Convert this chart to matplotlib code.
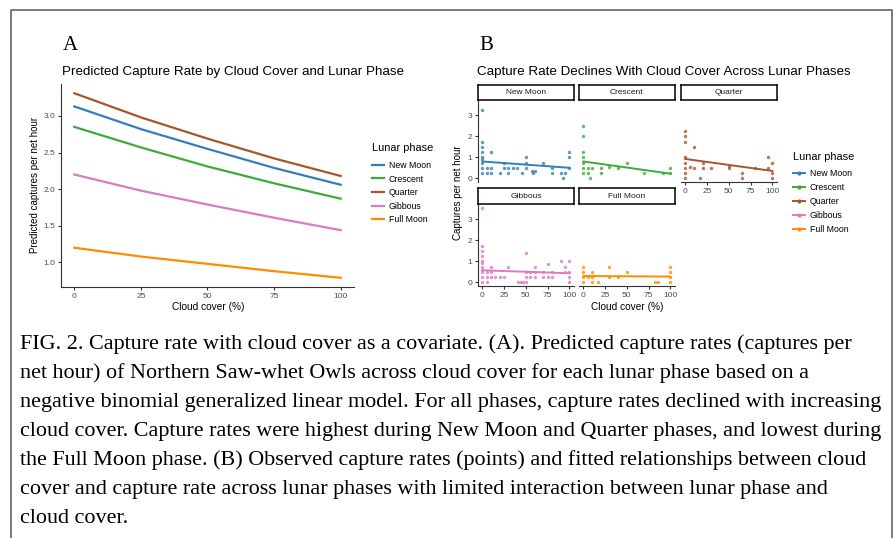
import matplotlib
matplotlib.use("Agg")
import matplotlib.pyplot as plt
from matplotlib.lines import Line2D

plt.rcParams['font.family'] = ['Liberation Sans', 'DejaVu Sans']

# lunar phases and their colours
phases = ["New Moon", "Crescent", "Quarter", "Gibbous", "Full Moon"]
colors = ["#377EB8", "#3DAA3A", "#A65628", "#DC7BBE", "#FF8C00"]

# panel A: predicted capture rate
cloud_pred = [0, 25, 50, 75, 100]
pred_new_moon = [3.13, 2.82, 2.55, 2.29, 2.06]
pred_crescent = [2.85, 2.57, 2.31, 2.08, 1.87]
pred_quarter = [3.31, 2.98, 2.69, 2.42, 2.18]
pred_gibbous = [2.20, 1.98, 1.79, 1.61, 1.44]
pred_full_moon = [1.20, 1.08, 0.98, 0.88, 0.79]
predicted = [pred_new_moon, pred_crescent, pred_quarter, pred_gibbous, pred_full_moon]

# panel B: observed capture rates (cloud cover %, captures per net hour)
new_moon_cloud = [0, 0, 0, 0, 0, 0, 0, 0, 0, 5, 5, 10, 10, 10, 20, 25, 25, 30, 30,
                  35, 40, 45, 50, 50, 50, 57, 58, 61, 70, 80, 80, 90, 93, 95, 100, 100, 100]
new_moon_rate = [3.25, 1.75, 1.5, 1.25, 1.0, 0.9, 0.75, 0.5, 0.25, 0.5, 0.25, 1.25, 0.5, 0.25,
                 0.25, 0.75, 0.5, 0.5, 0.25, 0.5, 0.5, 0.25, 1.0, 0.75, 0.5, 0.33, 0.25, 0.33,
                 0.75, 0.5, 0.25, 0.25, 0.0, 0.25, 1.25, 1.0, 0.5]
crescent_cloud = [0, 0, 0, 0, 0, 0, 0, 5, 5, 8, 10, 20, 20, 30, 40, 50, 70, 92, 100, 100]
crescent_rate = [2.5, 2.0, 1.25, 1.0, 0.75, 0.5, 0.25, 0.5, 0.25, 0.0, 0.5, 0.5, 0.25,
                 0.55, 0.5, 0.75, 0.25, 0.25, 0.5, 0.25]
quarter_cloud = [0, 0, 0, 0, 0, 0, 0, 0, 5, 10, 10, 17, 20, 20, 30, 50, 50, 65, 65,
                 80, 95, 95, 100, 100, 100]
quarter_rate = [2.25, 2.0, 1.75, 1.0, 0.75, 0.5, 0.25, 0.0, 0.55, 1.5, 0.5, 0.0, 0.75, 0.5,
                0.5, 0.5, 0.6, 0.25, 0.0, 0.5, 1.0, 0.5, 0.75, 0.25, 0.0]
gibbous_cloud = [0, 0, 0, 0, 0, 0, 0, 0, 0, 0, 0, 5, 5, 5, 10, 10, 10, 15, 20, 25, 30,
                 41, 44, 47, 50, 50, 50, 50, 55, 55, 60, 60, 60, 70, 70, 75, 75, 80, 80,
                 90, 95, 95, 100, 100, 100, 100]
gibbous_rate = [3.55, 1.75, 1.5, 1.25, 1.0, 0.9, 0.75, 0.6, 0.5, 0.25, 0.0, 0.5, 0.25, 0.0,
                0.75, 0.5, 0.25, 0.25, 0.25, 0.25, 0.75, 0.0, 0.0, 0.0, 1.4, 0.5, 0.25, 0.0,
                0.5, 0.25, 0.5, 0.25, 0.75, 0.5, 0.25, 0.85, 0.25, 0.5, 0.25, 1.0, 0.75, 0.5,
                1.0, 0.5, 0.25, 0.0]
full_moon_cloud = [0, 0, 0, 0, 5, 10, 10, 10, 17, 30, 30, 40, 50, 82, 86, 100, 100, 100, 100]
full_moon_rate = [0.75, 0.5, 0.25, 0.0, 0.25, 0.5, 0.25, 0.0, 0.0, 0.75, 0.25, 0.25, 0.5,
                  0.0, 0.0, 0.75, 0.5, 0.25, 0.0]
observed_cloud = [new_moon_cloud, crescent_cloud, quarter_cloud, gibbous_cloud, full_moon_cloud]
observed_rate = [new_moon_rate, crescent_rate, quarter_rate, gibbous_rate, full_moon_rate]

# fitted lines in panel B (value at 0% and 100% cloud cover)
fit_cloud = [0, 100]
fit_start = [0.80, 0.80, 0.92, 0.57, 0.30]
fit_end = [0.50, 0.22, 0.35, 0.43, 0.27]

caption_lines = [
    "FIG. 2. Capture rate with cloud cover as a covariate. (A). Predicted capture rates (captures per",
    "net hour) of Northern Saw-whet Owls across cloud cover for each lunar phase based on a",
    "negative binomial generalized linear model. For all phases, capture rates declined with increasing",
    "cloud cover. Capture rates were highest during New Moon and Quarter phases, and lowest during",
    "the Full Moon phase. (B) Observed capture rates (points) and fitted relationships between cloud",
    "cover and capture rate across lunar phases with limited interaction between lunar phase and",
    "cloud cover.",
]

W, H = 895, 538
fig = plt.figure(figsize=(W / 100, H / 100), dpi=100)
fig.patch.set_facecolor("white")


def px_axes(left, top, right, bottom):
    # place an axes by pixel edges
    return fig.add_axes([left / W, 1 - bottom / H, (right - left) / W, (bottom - top) / H])


def classic(ax):
    for s in ["top", "right"]:
        ax.spines[s].set_visible(False)
    for s in ["left", "bottom"]:
        ax.spines[s].set_color("#333333")
        ax.spines[s].set_linewidth(0.8)
    ax.tick_params(length=2.5, width=0.8, color="#333333", labelsize=6,
                   labelcolor="#4D4D4D", pad=1.5)


# frame around the figure
fig.add_artist(Line2D([11 / W, 11 / W, 892 / W, 892 / W], [0, 1 - 10 / H, 1 - 10 / H, 0],
                      transform=fig.transFigure, color="#6E6E6E", lw=1.3))

# ---------------- panel A ----------------
axA = px_axes(61, 84, 354, 287)
for i, ph in enumerate(phases):
    axA.plot(cloud_pred, predicted[i], color=colors[i], lw=1.6, label=ph)
axA.set_xlim(-5, 105)
axA.set_ylim(0.664, 3.436)
axA.set_xticks([0, 25, 50, 75, 100])
axA.set_yticks([1.0, 1.5, 2.0, 2.5, 3.0])
axA.set_yticklabels(["1.0", "1.5", "2.0", "2.5", "3.0"])
classic(axA)

fig.text(63 / W, 1 - 45 / H, "A", family="Liberation Serif", fontsize=15, va="center")
fig.text(62 / W, 1 - 72 / H, "Predicted Capture Rate by Cloud Cover and Lunar Phase",
         fontsize=9.6, va="center")
fig.text(35 / W, 1 - 185 / H, "Predicted captures per net hour", fontsize=7,
         rotation=90, ha="center", va="center")
fig.text(208 / W, 1 - 307 / H, "Cloud cover (%)", fontsize=7.3, ha="center", va="center")

fig.text(372 / W, 1 - 148 / H, "Lunar phase", fontsize=7.9, va="center")
handlesA = [Line2D([0], [0], color=c, lw=1.6) for c in colors]
legA = fig.legend(handlesA, phases, loc="upper left", bbox_to_anchor=(372 / W, 1 - 161 / H),
                  frameon=False, fontsize=6.3,
                  handlelength=1.35, handletextpad=0.55, labelspacing=0.52,
                  borderpad=0, borderaxespad=0)

# ---------------- panel B ----------------
col_left = [478, 579, 681]
row_top = [100, 204]
strip_top = [85, 188]
pw, ph_ = 95.7, 82
ymax = max(max(r) for r in observed_rate)
pad = 0.05 * ymax

for i, name in enumerate(phases):
    r, c = divmod(i, 3)
    left = col_left[c]
    ax = px_axes(left, row_top[r], left + pw, row_top[r] + ph_)
    ax.scatter(observed_cloud[i], observed_rate[i], s=6, color=colors[i], alpha=0.8,
               linewidths=0)
    ax.plot(fit_cloud, [fit_start[i], fit_end[i]], color=colors[i], lw=1.4)
    ax.set_xlim(-5, 105)
    ax.set_ylim(-pad, ymax + pad)
    ax.set_xticks([0, 25, 50, 75, 100])
    ax.set_yticks([0, 1, 2, 3])
    classic(ax)
    ax.patch.set_alpha(0)
    if c != 0:
        ax.spines["left"].set_visible(False)
        ax.tick_params(axis="y", left=False, labelleft=False)
    if r == 0 and c < 2:
        ax.spines["bottom"].set_visible(False)
        ax.tick_params(axis="x", bottom=False, labelbottom=False)

    # facet strip
    sx = px_axes(left, strip_top[r], left + pw, row_top[r])
    sx.set_xticks([])
    sx.set_yticks([])
    for s in sx.spines.values():
        s.set_color("black")
        s.set_linewidth(1.1)
    sx.text(0.5, 0.5, name, fontsize=6, ha="center", va="center", color="#1A1A1A",
            transform=sx.transAxes)

fig.text(479 / W, 1 - 45 / H, "B", family="Liberation Serif", fontsize=15, va="center")
fig.text(477 / W, 1 - 72 / H, "Capture Rate Declines With Cloud Cover Across Lunar Phases",
         fontsize=9.6, va="center")
fig.text(458 / W, 1 - 193 / H, "Captures per net hour", fontsize=7, rotation=90,
         ha="center", va="center")
fig.text(627 / W, 1 - 307 / H, "Cloud cover (%)", fontsize=7.3, ha="center", va="center")

fig.text(793 / W, 1 - 157 / H, "Lunar phase", fontsize=7.9, va="center")
handlesB = [Line2D([0], [0], color=c, lw=1.4, marker="o", ms=2) for c in colors]
legB = fig.legend(handlesB, phases, loc="upper left", bbox_to_anchor=(793 / W, 1 - 169 / H),
                  frameon=False, fontsize=6.3,
                  handlelength=1.35, handletextpad=0.55, labelspacing=0.56,
                  borderpad=0, borderaxespad=0)

# ---------------- caption ----------------
for k, line in enumerate(caption_lines):
    fig.text(20 / W, 1 - (349 + 28.95 * k) / H, line, family="Liberation Serif",
             fontsize=15.95, va="baseline", ha="left")

fig.savefig("out.png", dpi=100)
